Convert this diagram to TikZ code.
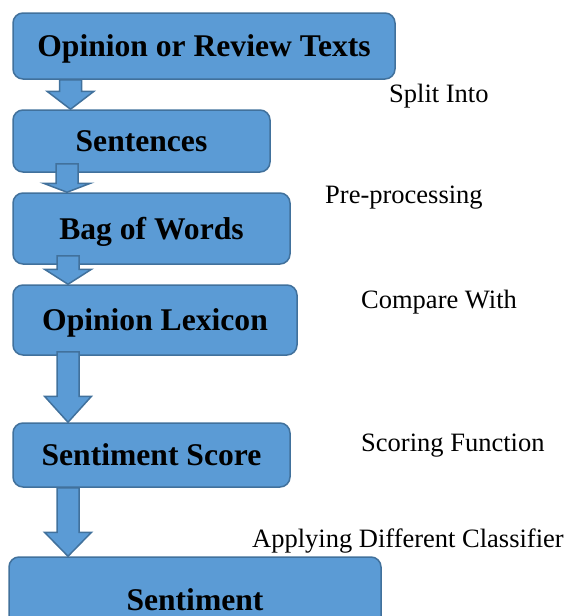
\documentclass[tikz,border=0pt]{standalone}
\usepackage{fontspec}
\setmainfont{Liberation Serif}
\usetikzlibrary{calc}
\definecolor{boxfill}{HTML}{5B9BD5}
\definecolor{boxline}{HTML}{41719C}
% block arrow from the bottom of one box to the top of the next
\newcommand{\flowarrow}[5]{%
	\draw[arrowbody] let \p1=(#1.south), \p2=(#2.north) in
		(#3pt-11pt,\y1+#4pt) -- (#3pt+11pt,\y1+#4pt) -- (#3pt+11pt,\y2+#5pt)
		-- (#3pt+23.5pt,\y2+#5pt) -- (#3pt,\y2) -- (#3pt-23.5pt,\y2+#5pt)
		-- (#3pt-11pt,\y2+#5pt) -- cycle;}
\begin{document}
\begin{tikzpicture}[x=1pt,y=-1pt,
		stepbox/.style={draw=boxline,fill=boxfill,line width=1.5pt,rounded corners=10pt,
			inner sep=0pt,text height=21pt,text depth=0pt,
			font=\fontsize{31.6}{36}\selectfont\bfseries},
		arrowbody/.style={draw=boxline,fill=boxfill,line width=1.5pt,line join=miter},
		steplabel/.style={anchor=base west,inner sep=0pt,font=\fontsize{26.5}{30}\selectfont}]
	\useasboundingbox (0,0) rectangle (566,616);
	\node[stepbox,minimum width=382pt,minimum height=66pt] (texts) at (204,46) {Opinion or Review Texts};
	\node[stepbox,minimum width=257pt,minimum height=62pt] (sent) at (141.5,141) {Sentences};
	\node[stepbox,minimum width=277pt,minimum height=71pt] (bag) at (151.5,228.5) {Bag of Words};
	\node[stepbox,minimum width=284pt,minimum height=70pt] (lex) at (155,320) {Opinion Lexicon};
	\node[stepbox,minimum width=277pt,minimum height=64pt] (score) at (151.5,455) {Sentiment Score};
	\node[stepbox,minimum width=372pt,minimum height=86pt] (senti) at (195,600) {Sentiment};
	% arrows
	\flowarrow{texts}{sent}{70.5}{0}{18}
	\flowarrow{sent}{bag}{67}{9}{9}
	\flowarrow{bag}{lex}{68}{9}{15}
	\flowarrow{lex}{score}{68}{4}{26}
	\flowarrow{score}{senti}{68}{0}{24}
	% step labels
	\node[steplabel] (split) at (389,102) {Split Into};
	\node[steplabel] (prep) at (325,203) {Pre-processing};
	\node[steplabel] (comp) at (361,308) {Compare With};
	\node[steplabel] (scoring) at (361,451) {Scoring Function};
	\node[steplabel] (classify) at (252,547) {Applying Different Classifier};
\end{tikzpicture}
\end{document}
